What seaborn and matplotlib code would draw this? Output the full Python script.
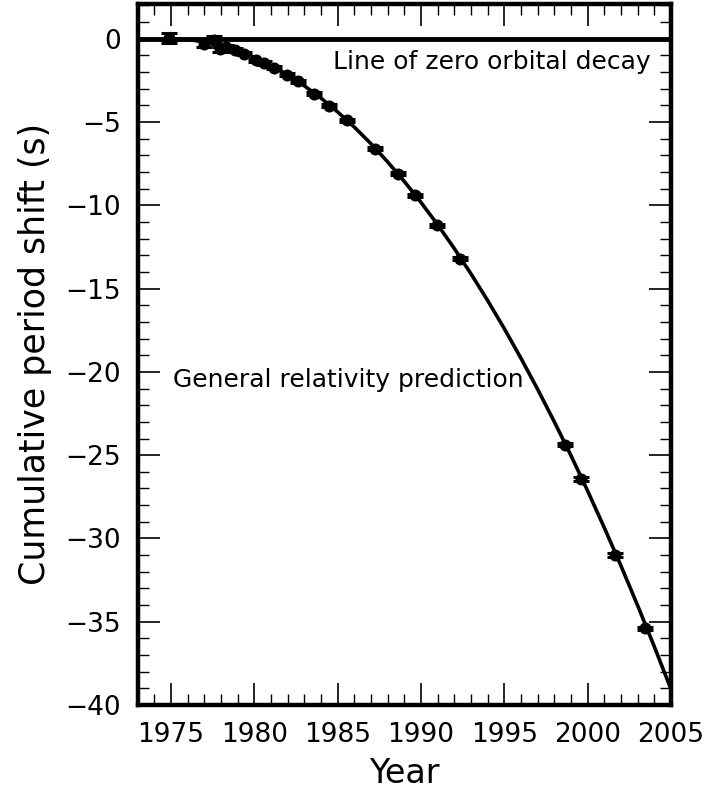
import matplotlib
matplotlib.use("Agg")
import matplotlib.pyplot as plt
from matplotlib.ticker import MultipleLocator
import pandas as pd
import seaborn as sns

# Measured epochs of periastron and the cumulative shift (s)
obs_year = [1974.90, 1977.00, 1977.56, 1977.94, 1978.30, 1978.86, 1979.36,
            1980.10, 1980.60, 1981.20, 1981.94, 1982.64, 1983.60, 1984.50,
            1985.53, 1987.24, 1988.60, 1989.64, 1990.93, 1992.36, 1998.64,
            1999.60, 2001.65, 2003.45]
obs_shift = [0.05, -0.30, -0.05, -0.62, -0.50, -0.70, -0.90,
             -1.30, -1.46, -1.74, -2.16, -2.56, -3.30, -4.02,
             -4.90, -6.60, -8.10, -9.40, -11.20, -13.20, -24.36,
             -26.44, -31.00, -35.40]
obs_err = [0.32, 0.20, 0.20, 0.15, 0.15, 0.12, 0.10,
           0.10, 0.10, 0.10, 0.10, 0.10, 0.10, 0.10,
           0.10, 0.10, 0.10, 0.10, 0.10, 0.10, 0.10,
           0.10, 0.10, 0.10]

# General relativity prediction curve
gr_year = [1974.9, 1976, 1977, 1978, 1979, 1980, 1981, 1982, 1983, 1984,
           1985, 1986, 1987, 1988, 1989, 1990, 1991, 1992, 1993, 1994,
           1995, 1996, 1997, 1998, 1999, 2000, 2001, 2002, 2003, 2004,
           2005, 2006]
gr_shift = [0.00, -0.05, -0.19, -0.41, -0.73, -1.12, -1.60, -2.17, -2.83,
            -3.57, -4.40, -5.31, -6.31, -7.40, -8.57, -9.83, -11.17, -12.60,
            -14.12, -15.72, -17.41, -19.19, -21.05, -23.00, -25.03, -27.15,
            -29.36, -31.65, -34.03, -36.50, -39.05, -41.69]

obs = pd.DataFrame({"year": obs_year, "shift": obs_shift, "err": obs_err})
gr = pd.DataFrame({"year": gr_year, "shift": gr_shift})

sns.set_theme(style="ticks")
plt.rcParams["font.family"] = ["DejaVu Sans"]
plt.rcParams.update({"text.color": "black", "axes.labelcolor": "black",
                     "xtick.color": "black", "ytick.color": "black"})

fig = plt.figure(figsize=(7.07, 7.92), dpi=100)
ax = fig.add_axes([0.1948, 0.1098, 0.7543, 0.8855])

# zero-decay reference line
ax.axhline(0, color="black", lw=3.5, zorder=2)

sns.lineplot(data=gr, x="year", y="shift", ax=ax, color="black", lw=2.6,
             sort=False, zorder=3)
ax.errorbar(obs["year"], obs["shift"], yerr=obs["err"], fmt="none",
            ecolor="black", elinewidth=1.6, capsize=5.5, capthick=2.2,
            zorder=4)
sns.scatterplot(data=obs, x="year", y="shift", ax=ax, color="black",
                s=75, marker="o", edgecolor="black", linewidth=0, zorder=5)

ax.set_xlim(1973.0, 2005.0)
ax.set_ylim(-40, 2.1)
ax.xaxis.set_major_locator(MultipleLocator(5))
ax.xaxis.set_minor_locator(MultipleLocator(1))
ax.yaxis.set_major_locator(MultipleLocator(5))
ax.yaxis.set_minor_locator(MultipleLocator(1))

ax.tick_params(which="both", direction="in", top=True, right=True,
               color="black", labelcolor="black", labelsize=19)
ax.tick_params(which="major", length=16, width=1.2, pad=12)
ax.tick_params(which="minor", length=8, width=1.0)

for sp in ax.spines.values():
    sp.set_linewidth(3.2)
    sp.set_color("black")

ax.set_xlabel("Year", fontsize=24, labelpad=7)
ax.set_ylabel("Cumulative period shift (s)", fontsize=25, labelpad=10)

ax.text(2003.75, -1.8, "Line of zero orbital decay", fontsize=18,
        ha="right", va="baseline", color="black")
ax.text(1975.13, -20.9, "General relativity prediction", fontsize=18,
        ha="left", va="baseline", color="black")

fig.savefig("out.png", dpi=100, facecolor="white")
